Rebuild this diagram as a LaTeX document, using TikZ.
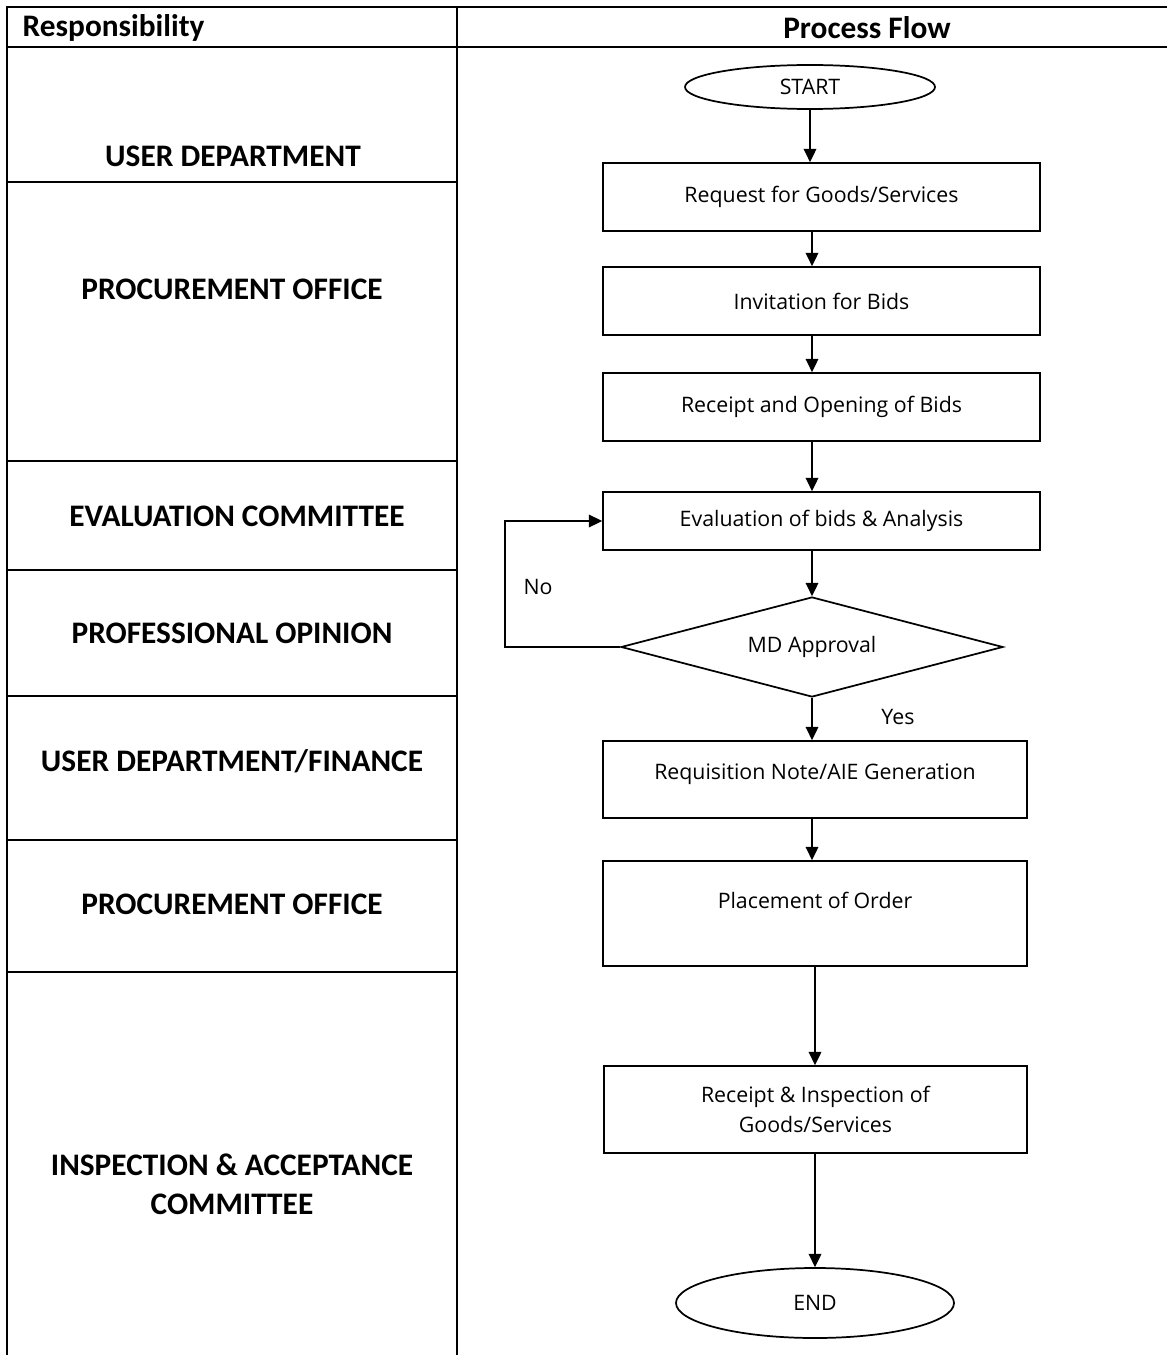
\documentclass[tikz,border=0pt]{standalone}
\usepackage{fontspec}
\setmainfont{Carlito}
\newfontfamily\flowfont{Open Sans}
\usetikzlibrary{shapes.geometric, arrows.meta, positioning}

\begin{document}
\begin{tikzpicture}[x=0.75pt, y=-0.75pt,
  grid/.style={line width=1.6pt},
  role/.style={font=\fontsize{23.5}{29}\selectfont\bfseries, align=center},
  flowbox/.style={draw, line width=1.3pt, minimum width=437*0.75pt, minimum height=68*0.75pt, inner sep=0pt, font=\flowfont\fontsize{16}{22}\selectfont, align=center},
  terminal/.style={draw, ellipse, line width=1.3pt, inner sep=0pt, font=\flowfont\fontsize{16}{22}\selectfont},
  decision/.style={draw, diamond, aspect=3.82, line width=1.3pt, inner sep=0pt, minimum width=382*0.75pt, minimum height=100*0.75pt, font=\flowfont\fontsize{16}{22}\selectfont},
  flow/.style={-{Triangle[length=10pt,width=9.5pt]}, line width=1.3pt},
  tag/.style={font=\flowfont\fontsize{16}{22}\selectfont}
]
  \useasboundingbox (0,0) rectangle (1167,1355);

  % table frame
  \draw[grid] (7,1355) -- (7,7) -- (1167,7);
  \draw[grid] (7,47) -- (1167,47);
  \draw[grid] (457,7) -- (457,1355);
  \foreach \y in {182,461,570,696,840,972}
    \draw[grid] (7,\y) -- (457,\y);

  % headings
  \node[role, anchor=west] (hresp) at (18,28) {Responsibility};
  \node[role] (hflow) at (867,28) {Process Flow};

  % responsibilities
  \node[role] (r1) at (233,156) {USER DEPARTMENT};
  \node[role] (r2) at (232,289) {PROCUREMENT OFFICE};
  \node[role] (r3) at (237,516) {EVALUATION COMMITTEE};
  \node[role] (r4) at (232,633) {PROFESSIONAL OPINION};
  \node[role] (r5) at (232,761) {USER DEPARTMENT/FINANCE};
  \node[role] (r6) at (232,904) {PROCUREMENT OFFICE};
  \node[role] (r7) at (232,1184) {INSPECTION \& ACCEPTANCE\\COMMITTEE};

  % process flow
  \node[terminal, minimum width=250*0.75pt, minimum height=44*0.75pt] (start) at (810,87) {START};
  \node[flowbox] (request) at (821.5,197) {Request for Goods/Services};
  \node[flowbox] (invite) at (821.5,301) {Invitation for Bids};
  \node[flowbox] (opening) at (821.5,407) {Receipt and Opening of Bids};
  \node[flowbox, minimum height=58*0.75pt] (evaluate) at (821.5,521) {Evaluation of bids \& Analysis};
  \node[decision] (approval) at (812,647) {MD Approval};
  \node[flowbox, minimum width=424*0.75pt, minimum height=77*0.75pt,
    label={[tag, anchor=north, yshift=-19*0.75pt]north:Requisition Note/AIE Generation}] (requisition) at (815,779.5) {};
  \node[flowbox, minimum width=424*0.75pt, minimum height=105*0.75pt,
    label={[tag, anchor=north, yshift=-27*0.75pt]north:Placement of Order}] (order) at (815,913.5) {};
  \node[flowbox, minimum width=423*0.75pt, minimum height=87*0.75pt] (inspect) at (815.5,1109.5) {Receipt \& Inspection of\\Goods/Services};
  \node[terminal, minimum width=278*0.75pt, minimum height=70*0.75pt] (finish) at (815,1303) {END};

  \node[tag] (no) at (538,587) {No};
  \node[tag] (yes) at (898,717) {Yes};

  % connectors
  \draw[flow] (start) -- (start |- request.north);
  \draw[flow] (request.south -| approval) -- (invite.north -| approval);
  \draw[flow] (invite.south -| approval) -- (opening.north -| approval);
  \draw[flow] (opening.south -| approval) -- (evaluate.north -| approval);
  \draw[flow] (evaluate.south -| approval) -- (approval.north);
  \draw[flow] (approval.west) -- ++(-115,0) |- (evaluate.west);
  \draw[flow] (approval.south) -- (requisition.north -| approval);
  \draw[flow] (requisition.south -| approval) -- (order.north -| approval);
  \draw[flow] (order.south) -- (inspect.north -| order);
  \draw[flow] (inspect.south -| order) -- (finish.north);
\end{tikzpicture}
\end{document}
